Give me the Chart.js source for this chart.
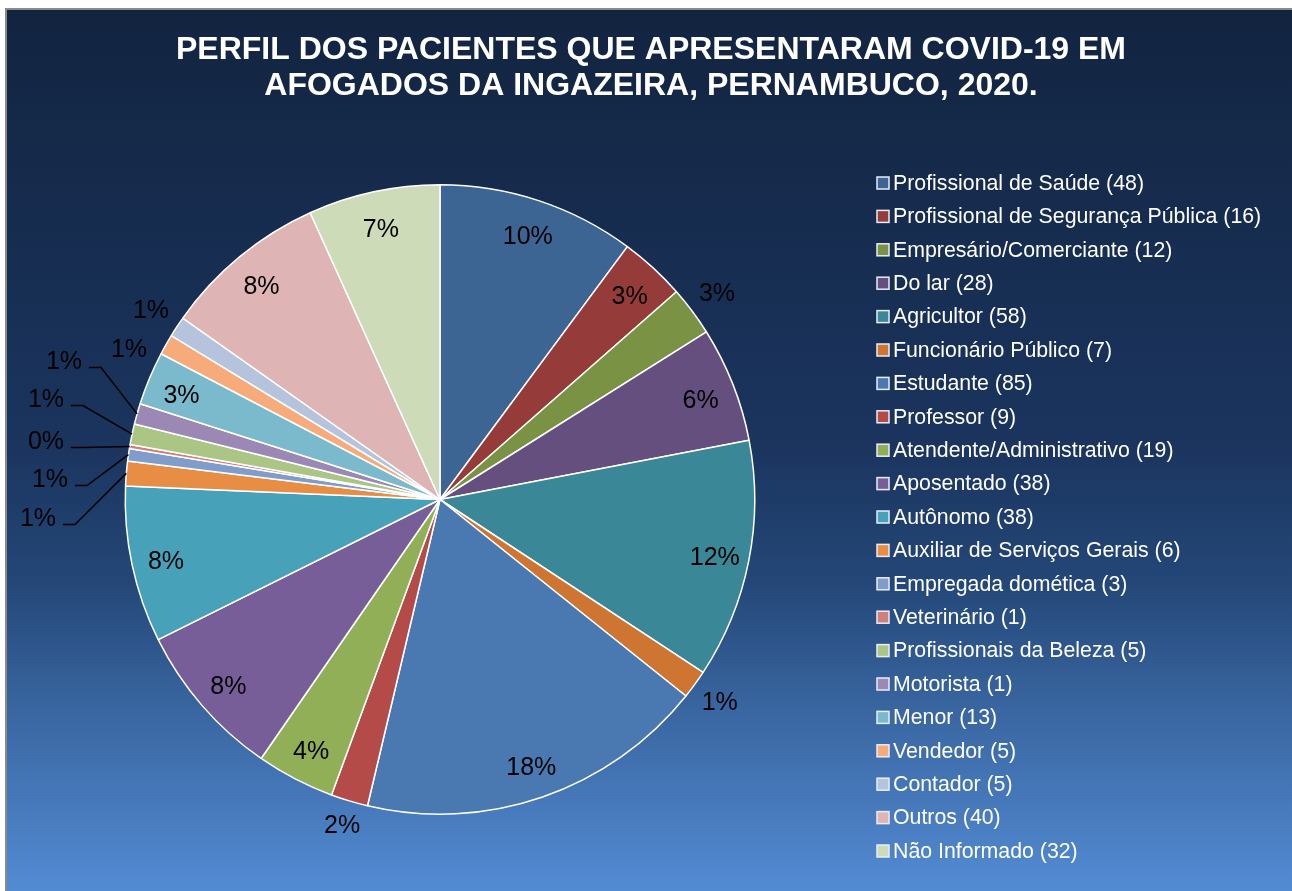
<!DOCTYPE html>
<html>
<head>
<meta charset="utf-8">
<script src="https://cdn.jsdelivr.net/npm/chart.js@4"></script>
<style>
  html, body { margin: 0; padding: 0; background: #fff; }
  #wrap { width: 1292px; height: 891px; }
</style>
</head>
<body>
<div id="wrap"><canvas id="chart" width="1292" height="891"></canvas></div>
<script>
// legend text as printed in the chart
var categories = [
  'Profissional de Saúde (48)',
  'Profissional de Segurança Pública (16)',
  'Empresário/Comerciante (12)',
  'Do lar (28)',
  'Agricultor (58)',
  'Funcionário Público (7)',
  'Estudante (85)',
  'Professor (9)',
  'Atendente/Administrativo (19)',
  'Aposentado (38)',
  'Autônomo (38)',
  'Auxiliar de Serviços Gerais (6)',
  'Empregada domética (3)',
  'Veterinário (1)',
  'Profissionais da Beleza (5)',
  'Motorista (1)',
  'Menor (13)',
  'Vendedor (5)',
  'Contador (5)',
  'Outros (40)',
  'Não Informado (32)'
];

// slice sizes (the Motorista slice is drawn as wide as the 5's)
var counts = [48, 16, 12, 28, 58, 7, 85, 9, 19, 38, 38, 6, 3, 1, 5, 5, 13, 5, 5, 40, 32];

var sliceColors = [
  '#3d6594', '#953c3a', '#7a9244', '#644f7f', '#398797', '#cf7532',
  '#4a78b0', '#b44b48', '#91af56', '#775e98', '#47a1b9', '#e88e44',
  '#7f9ccb', '#d07f7d', '#abc585', '#9c88b4', '#7bb9cd', '#f7ab7a',
  '#b5c3dc', '#deb4b4', '#cedbb9'
];

var titleLines = [
  'PERFIL DOS PACIENTES QUE APRESENTARAM COVID-19 EM',
  'AFOGADOS DA INGAZEIRA, PERNAMBUCO, 2020.'
];

// where each percent label goes: inside, just outside, or off to the left with a leader line
var labelPlacement = ['in', 'in', 'out', 'in', 'in', 'out', 'in', 'out', 'in', 'in', 'in',
  'lead', 'lead', 'lead', 'lead', 'lead', 'in', 'out', 'out', 'in', 'in'];
var leaderOffsets = {
  11: [-402, 19],
  12: [-390, -20],
  13: [-394, -58],
  14: [-394, -100],
  15: [-376, -138]
};
// small shift so the two outside labels on the upper left don't collide
var labelNudge = { 17: [-10, 20] };

var FONT = '"Liberation Sans", Arial, sans-serif';

var chromePlugin = {
  id: 'chrome',
  beforeDraw: function(chart) {
    var ctx = chart.ctx, w = chart.width, h = chart.height;
    ctx.save();
    ctx.fillStyle = '#fff';
    ctx.fillRect(0, 0, w, h);
    var g = ctx.createLinearGradient(0, 10, 0, h);
    g.addColorStop(0, '#122440');
    g.addColorStop(0.5, '#1b355f');
    g.addColorStop(0.65, '#244778');
    g.addColorStop(0.8, '#3a67a2');
    g.addColorStop(1, '#538bd3');
    ctx.fillStyle = g;
    ctx.fillRect(7, 10, w - 7, h - 10);
    ctx.strokeStyle = '#8a8a8a';
    ctx.lineWidth = 2;
    ctx.beginPath();
    ctx.moveTo(6, h);
    ctx.lineTo(6, 9);
    ctx.lineTo(w, 9);
    ctx.stroke();

    ctx.fillStyle = '#fff';
    ctx.font = 'bold 32px ' + FONT;
    ctx.textAlign = 'center';
    ctx.textBaseline = 'middle';
    titleLines.forEach(function(t, i) {
      ctx.fillText(t, 651, 50 + i * 36);
    });
    ctx.restore();
  },
  afterDatasetsDraw: function(chart) {
    var ctx = chart.ctx;
    var meta = chart.getDatasetMeta(0);
    var total = counts.reduce(function(a, b) { return a + b; }, 0);

    ctx.save();
    ctx.font = '25px ' + FONT;
    ctx.textAlign = 'center';
    ctx.textBaseline = 'middle';
    ctx.fillStyle = '#000';
    ctx.strokeStyle = '#000';
    ctx.lineWidth = 1.5;

    meta.data.forEach(function(arc, i) {
      var p = arc.getProps(['x', 'y', 'startAngle', 'endAngle', 'outerRadius'], true);
      var mid = (p.startAngle + p.endAngle) / 2;
      var cos = Math.cos(mid), sin = Math.sin(mid);
      var r = p.outerRadius;
      var text = Math.round(counts[i] / total * 100) + '%';
      var mode = labelPlacement[i];
      var lx, ly;

      if (mode === 'in') {
        lx = p.x + r * 0.89 * cos;
        ly = p.y + r * 0.89 * sin + 3;
      } else if (mode === 'out') {
        var d = r + 11 + 18 * Math.abs(cos) + 9 * Math.abs(sin);
        lx = p.x + d * cos;
        ly = p.y + d * sin;
        if (labelNudge[i]) {
          lx += labelNudge[i][0];
          ly += labelNudge[i][1];
        }
      } else {
        lx = p.x + leaderOffsets[i][0];
        ly = p.y + leaderOffsets[i][1];
        ctx.beginPath();
        ctx.moveTo(lx + 25, ly + 6);
        ctx.lineTo(lx + 37, ly + 6);
        ctx.lineTo(p.x + r * cos, p.y + r * sin);
        ctx.stroke();
      }
      ctx.fillText(text, lx, ly + 1);
    });

    // legend
    ctx.font = '21.3px ' + FONT;
    ctx.textAlign = 'left';
    categories.forEach(function(label, i) {
      var y = 183 + i * 33.4;
      ctx.fillStyle = sliceColors[i];
      ctx.fillRect(877, y - 6, 12, 12);
      ctx.strokeStyle = '#e8edf5';
      ctx.lineWidth = 1.5;
      ctx.strokeRect(877, y - 6, 12, 12);
      ctx.fillStyle = '#fff';
      ctx.fillText(label, 893, y + 1);
    });
    ctx.restore();
  }
};

new Chart(document.getElementById('chart'), {
  type: 'pie',
  data: {
    labels: categories,
    datasets: [{
      data: counts,
      backgroundColor: sliceColors,
      borderColor: '#ffffff',
      borderWidth: 1.5
    }]
  },
  options: {
    responsive: false,
    animation: false,
    devicePixelRatio: 1,
    layout: { padding: { top: 184, bottom: 76, left: 3, right: 415 } },
    plugins: {
      legend: { display: false },
      tooltip: { enabled: false }
    }
  },
  plugins: [chromePlugin]
});
</script>
</body>
</html>
